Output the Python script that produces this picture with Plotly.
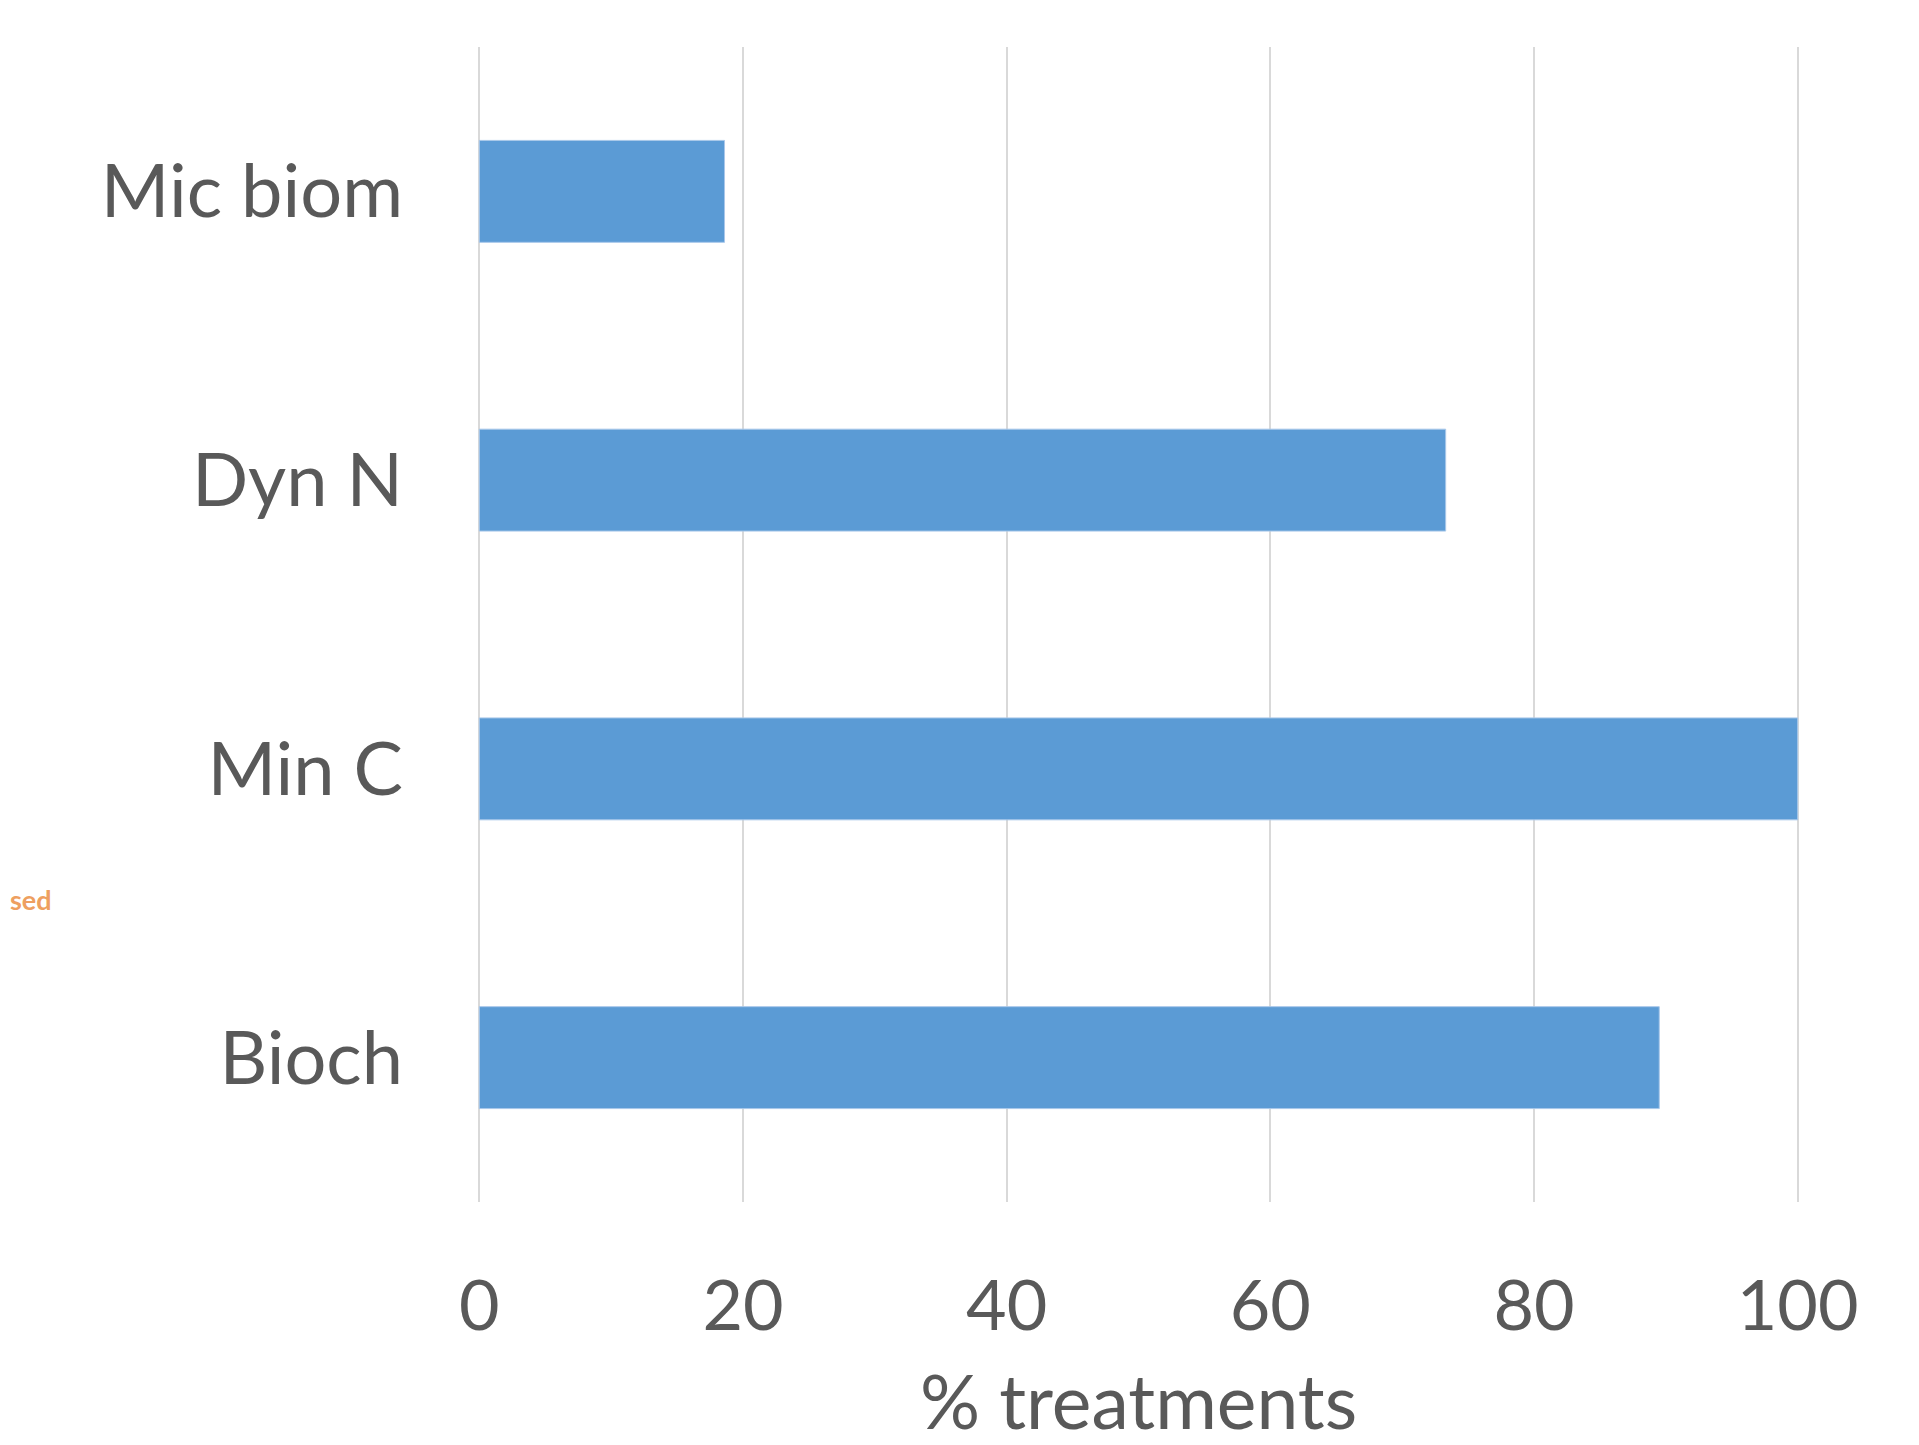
import plotly.graph_objects as go

# data
categories = ["Mic biom", "Dyn N", "Min C", "Bioch"]
pct_treatments = [18.6, 73.3, 100, 89.5]
x_ticks = [0, 20, 40, 60, 80, 100]

txt = "#595959"
grid = "#D9D9D9"
font = "Lato, 'Open Sans', sans-serif"

fig = go.Figure(
    go.Bar(
        x=pct_treatments, y=categories, orientation="h",
        marker=dict(color="#5B9BD5", line=dict(color="#A9C8EA", width=1)),
        hoverinfo="x+y",
    )
)

# page body adds 8px, so the figure is a bit smaller than the window
fig.update_layout(
    width=1911, height=1437,
    margin=dict(l=470, r=120, t=39, b=243),
    paper_bgcolor="white", plot_bgcolor="white",
    bargap=0.647, showlegend=False,
    font=dict(family=font, color=txt),
)

fig.update_xaxes(
    range=[-0.1, 100.1], tickvals=x_ticks, ticktext=[str(v) for v in x_ticks],
    showgrid=True, gridcolor=grid, gridwidth=1.5,
    zeroline=True, zerolinecolor=grid, zerolinewidth=1.5, showline=False,
    tickfont=dict(size=70, color=txt), ticklabelstandoff=57,
    title=dict(text="% treatments", font=dict(size=75, color=txt), standoff=48),
    automargin=False,
)
fig.update_yaxes(
    categoryorder="array", categoryarray=categories, autorange="reversed",
    showgrid=False, zeroline=False, showline=False,
    tickfont=dict(size=74, color=txt), ticklabelstandoff=74,
    automargin=False,
)

# fragment of other slide text at far left
fig.add_annotation(
    text="<b>sed</b>", xref="paper", yref="paper",
    x=(0 - 470) / 1321, y=(1437 - 243 - 891) / 1155,
    xanchor="left", yanchor="middle", showarrow=False,
    font=dict(size=27, color="#EE9F60", family=font),
)

fig.write_html("out.html")
